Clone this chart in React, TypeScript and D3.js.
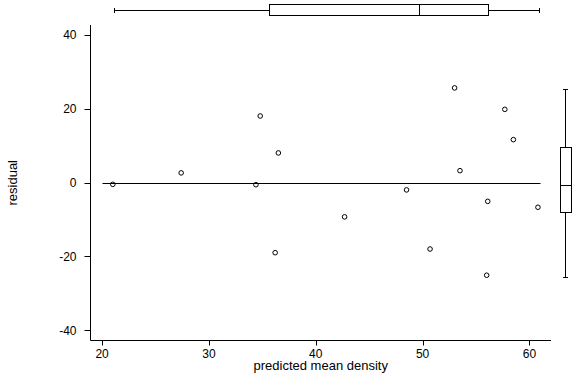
import React from "react";
import * as d3 from "d3";

const predicted = [21.0, 27.4, 34.4, 34.8, 36.5, 36.2, 42.7, 48.5, 50.7, 53.0, 53.5, 56.1, 56.0, 57.7, 58.5, 60.8];
const residual = [-0.5, 2.6, -0.6, 18.0, 8.0, -19.0, -9.3, -2.0, -18.0, 25.6, 3.2, -5.1, -25.1, 19.8, 11.6, -6.7];
// box summaries: [min, q1, median, q3, max]
const predictedBox = [21.1, 35.6, 49.7, 56.1, 60.9];
const residualBox = [-25.5, -8.1, -0.8, 9.6, 25.4];
const xTicks = [20, 30, 40, 50, 60];
const yTicks = [-40, -20, 0, 20, 40];
const zeroLineRange = [20, 61];
const xTitle = "predicted mean density";
const yTitle = "residual";

const W = 576, H = 384;
const left = 90.5, right = 551, top = 25, bottom = 340.5;
const font = "'Liberation Sans', Arial, sans-serif";

export default function App() {
  const x = d3.scaleLinear().domain([20, 60]).range([102.1, 529.4]);
  const y = d3.scaleLinear().domain([-40, 40]).range([330.3, 34.7]);
  const px = (v: number) => Math.round(x(v)) + 0.5;
  const py = (v: number) => Math.round(y(v)) + 0.5;

  // top box plot geometry
  const tbY0 = 4.5, tbY1 = 15.5, tbMid = 10.5;
  // right box plot geometry
  const rbX0 = 560.5, rbX1 = 571.5, rbMid = 565.5;
  const [xmin, xq1, xmed, xq3, xmax] = predictedBox;
  const [ymin, yq1, ymed, yq3, ymax] = residualBox;

  return (
    <svg width={W} height={H} style={{ position: "absolute", left: 0, top: 0, background: "#fff" }}>
      <rect x={0} y={0} width={W} height={H} fill="#fff" />
      <g stroke="#000" strokeWidth={1} fill="none">
        {/* axes */}
        <line x1={left} y1={top} x2={left} y2={bottom} />
        <line x1={left} y1={bottom} x2={right} y2={bottom} />
        {yTicks.map((t) => (
          <line key={"yt" + t} x1={left - 6} x2={left} y1={py(t)} y2={py(t)} />
        ))}
        {xTicks.map((t) => (
          <line key={"xt" + t} x1={px(t)} x2={px(t)} y1={bottom} y2={bottom + 5} />
        ))}
        {/* zero line */}
        <line x1={px(zeroLineRange[0])} x2={px(zeroLineRange[1])} y1={py(0)} y2={py(0)} />
        {/* points */}
        {predicted.map((v, i) => (
          <circle key={"p" + i} cx={x(v)} cy={y(residual[i])} r={2.3} />
        ))}
        {/* top box plot */}
        <line x1={px(xmin)} x2={px(xq1)} y1={tbMid} y2={tbMid} />
        <line x1={px(xq3)} x2={px(xmax)} y1={tbMid} y2={tbMid} />
        <line x1={px(xmin)} x2={px(xmin)} y1={tbMid - 2.5} y2={tbMid + 2.5} />
        <line x1={px(xmax)} x2={px(xmax)} y1={tbMid - 2.5} y2={tbMid + 2.5} />
        <rect x={px(xq1)} y={tbY0} width={px(xq3) - px(xq1)} height={tbY1 - tbY0} />
        <line x1={px(xmed)} x2={px(xmed)} y1={tbY0} y2={tbY1} />
        {/* right box plot */}
        <line x1={rbMid} x2={rbMid} y1={py(ymax)} y2={py(yq3)} />
        <line x1={rbMid} x2={rbMid} y1={py(yq1)} y2={py(ymin)} />
        <line x1={rbMid - 2.5} x2={rbMid + 2.5} y1={py(ymax)} y2={py(ymax)} />
        <line x1={rbMid - 2.5} x2={rbMid + 2.5} y1={py(ymin)} y2={py(ymin)} />
        <rect x={rbX0} y={py(yq3)} width={rbX1 - rbX0} height={py(yq1) - py(yq3)} />
        <line x1={rbX0} x2={rbX1} y1={py(ymed)} y2={py(ymed)} />
      </g>
      <g fontFamily={font} fontSize={12} fill="#000">
        {yTicks.map((t) => (
          <text key={"yl" + t} x={left - 14} y={y(t) + 4.5} textAnchor="end">{t}</text>
        ))}
        {xTicks.map((t) => (
          <text key={"xl" + t} x={x(t)} y={357.5} textAnchor="middle">{t}</text>
        ))}
        <text x={(left + right) / 2} y={369.5} textAnchor="middle" fontSize={13}>{xTitle}</text>
        <text transform={`translate(16.5, ${(top + bottom) / 2}) rotate(-90)`} textAnchor="middle" fontSize={13}>{yTitle}</text>
      </g>
    </svg>
  );
}
